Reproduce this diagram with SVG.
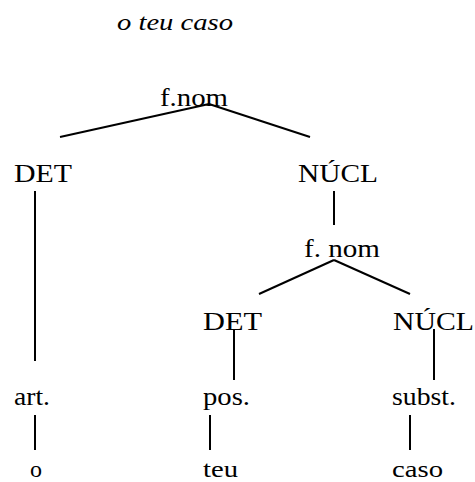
<svg xmlns="http://www.w3.org/2000/svg" width="475" height="482" viewBox="0 0 475 482">
<style>
text{font-family:"Liberation Serif","Times New Roman",serif;font-size:26px;fill:#000}
.t{font-style:italic;font-size:23px}
.b{font-size:24px}
line{stroke:#000;stroke-width:2;fill:none}
</style>
<rect width="475" height="482" fill="#fff"/>
<text class="t" x="117" y="30" textLength="116" lengthAdjust="spacingAndGlyphs">o teu caso</text>
<g id="connectors">
<line x1="60" y1="137" x2="209" y2="104"/>
<line x1="209" y1="104" x2="310" y2="137"/>
<line x1="35" y1="191" x2="35" y2="361"/>
<line x1="334" y1="191" x2="334" y2="225"/>
<line x1="334" y1="260" x2="259" y2="294"/>
<line x1="334" y1="260" x2="410" y2="294"/>
<line x1="234" y1="329" x2="234" y2="380"/>
<line x1="434" y1="329" x2="434" y2="380"/>
<line x1="35" y1="415" x2="35" y2="450"/>
<line x1="210" y1="415" x2="210" y2="450"/>
<line x1="410" y1="415" x2="410" y2="450"/>
</g>
<g id="fnom1"><text x="160" y="106" textLength="68" lengthAdjust="spacingAndGlyphs">f.nom</text></g>
<g id="det1"><text x="14" y="182" textLength="58" lengthAdjust="spacingAndGlyphs">DET</text></g>
<g id="nucl1"><text x="298" y="182" textLength="80" lengthAdjust="spacingAndGlyphs">NÚCL</text></g>
<g id="fnom2"><text x="304" y="257" textLength="76" lengthAdjust="spacingAndGlyphs">f. nom</text></g>
<g id="det2"><text x="203" y="330" textLength="59" lengthAdjust="spacingAndGlyphs">DET</text></g>
<g id="nucl2"><text x="393" y="330" textLength="81" lengthAdjust="spacingAndGlyphs">NÚCL</text></g>
<g id="art"><text x="14" y="405" textLength="36" lengthAdjust="spacingAndGlyphs">art.</text></g>
<g id="pos"><text x="203" y="405" textLength="47" lengthAdjust="spacingAndGlyphs">pos.</text></g>
<g id="subst"><text x="392" y="405" textLength="64" lengthAdjust="spacingAndGlyphs">subst.</text></g>
<g id="o"><text class="b" x="30" y="477" textLength="12" lengthAdjust="spacingAndGlyphs">o</text></g>
<g id="teu"><text class="b" x="203" y="477" textLength="35" lengthAdjust="spacingAndGlyphs">teu</text></g>
<g id="caso"><text class="b" x="392" y="477" textLength="51" lengthAdjust="spacingAndGlyphs">caso</text></g>
</svg>
